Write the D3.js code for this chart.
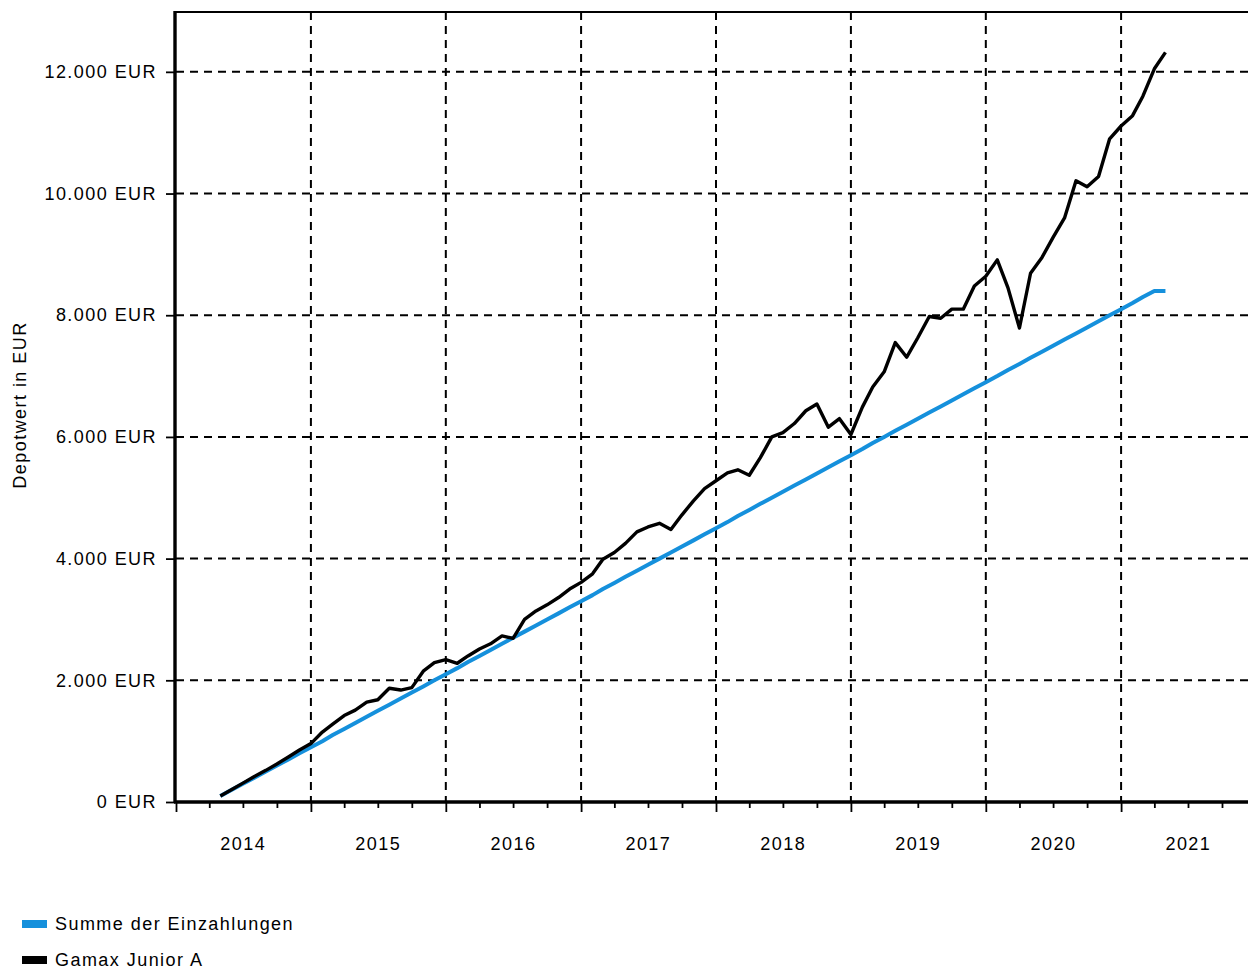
<!DOCTYPE html>
<html>
<head>
<meta charset="utf-8">
<script src="https://cdn.jsdelivr.net/npm/d3@7"></script>
<style>
  html, body { margin: 0; padding: 0; background: #fff; }
  svg { display: block; }
  text { font-family: "Liberation Sans", Arial, sans-serif; fill: #000; }
</style>
</head>
<body>
<svg id="chart" width="1248" height="969"></svg>
<script>
// ---- data ----
const months = [
  "2014-05","2014-06","2014-07","2014-08","2014-09","2014-10","2014-11","2014-12",
  "2015-01","2015-02","2015-03","2015-04","2015-05","2015-06","2015-07","2015-08","2015-09","2015-10","2015-11","2015-12",
  "2016-01","2016-02","2016-03","2016-04","2016-05","2016-06","2016-07","2016-08","2016-09","2016-10","2016-11","2016-12",
  "2017-01","2017-02","2017-03","2017-04","2017-05","2017-06","2017-07","2017-08","2017-09","2017-10","2017-11","2017-12",
  "2018-01","2018-02","2018-03","2018-04","2018-05","2018-06","2018-07","2018-08","2018-09","2018-10","2018-11","2018-12",
  "2019-01","2019-02","2019-03","2019-04","2019-05","2019-06","2019-07","2019-08","2019-09","2019-10","2019-11","2019-12",
  "2020-01","2020-02","2020-03","2020-04","2020-05","2020-06","2020-07","2020-08","2020-09","2020-10","2020-11","2020-12",
  "2021-01","2021-02","2021-03","2021-04","2021-05"
];
const einzahlungen = [
  100,200,300,400,500,600,700,800,
  900,1000,1100,1200,1300,1400,1500,1600,1700,1800,1900,2000,
  2100,2200,2300,2400,2500,2600,2700,2800,2900,3000,3100,3200,
  3300,3400,3500,3600,3700,3800,3900,4000,4100,4200,4300,4400,
  4500,4600,4700,4800,4900,5000,5100,5200,5300,5400,5500,5600,
  5700,5800,5900,6000,6100,6200,6300,6400,6500,6600,6700,6800,
  6900,7000,7100,7200,7300,7400,7500,7600,7700,7800,7900,8000,
  8100,8200,8300,8400,8400
];
const gamax = [
  100,205,310,420,520,625,740,855,
  960,1150,1280,1420,1510,1640,1680,1870,1840,1880,2150,2290,
  2340,2280,2400,2515,2600,2730,2690,3000,3140,3240,3360,3500,
  3610,3750,3990,4100,4250,4440,4520,4580,4480,4720,4950,5150,
  5280,5410,5460,5370,5660,6000,6070,6220,6430,6540,6160,6300,
  6040,6490,6820,7070,7550,7310,7630,7980,7950,8100,8100,8480,
  8640,8910,8450,7790,8690,8950,9280,9600,10210,10110,10280,10900,
  11110,11280,11600,12050,12320
];
const yTicks = [0,2000,4000,6000,8000,10000,12000];
const yearLabels = ["2014","2015","2016","2017","2018","2019","2020","2021"];
const seriesNames = ["Summe der Einzahlungen","Gamax Junior A"];
const seriesColors = ["#1590dc","#000000"];
const yAxisTitle = "Depotwert in EUR";

(function () {
// ---- layout ----
const svg = d3.select("#chart");
const W = 1248;
const pLeft = 176, pBottom = 802, pTop = 11;
const FS = 18, LS = 1.45;
const parse = d3.timeParse("%Y-%m");
const dates = months.map(parse);

const x = d3.scaleTime()
  .domain([new Date(2014,0,1), new Date(2022,0,1)])
  .range([pLeft, pLeft + 135*8]);
const y = d3.scaleLinear().domain([0,13000]).range([pBottom, pTop]);

const fmt = v => d3.format(",")(v).replace(/,/g, ".") + " EUR";

// grid
const g = svg.append("g");
g.selectAll("line.hgrid").data(yTicks.filter(v => v > 0)).join("line")
  .attr("x1", pLeft).attr("x2", W)
  .attr("y1", d => y(d)).attr("y2", d => y(d))
  .attr("stroke", "#000").attr("stroke-width", 2)
  .attr("stroke-dasharray", "8,6");
const yearDates = yearLabels.slice(1).map(s => new Date(+s,0,1));
g.selectAll("line.vgrid").data(yearDates).join("line")
  .attr("x1", d => x(d)).attr("x2", d => x(d))
  .attr("y1", pTop+1).attr("y2", pBottom)
  .attr("stroke", "#000").attr("stroke-width", 2)
  .attr("stroke-dasharray", "8,6");

// lines
const lineGen = vals => d3.line()
  .x((d,i) => x(dates[i]))
  .y(d => y(d))(vals);
svg.append("path").attr("d", lineGen(einzahlungen))
  .attr("fill","none").attr("stroke", seriesColors[0]).attr("stroke-width", 4)
  .attr("stroke-linejoin","round");
svg.append("path").attr("d", lineGen(gamax))
  .attr("fill","none").attr("stroke", seriesColors[1]).attr("stroke-width", 3.4)
  .attr("stroke-linejoin","round");

// frame line on top
svg.append("line").attr("x1", pLeft-1).attr("x2", W).attr("y1", pTop+1).attr("y2", pTop+1)
  .attr("stroke","#000").attr("stroke-width",2.2);

// y axis
const yAxis = d3.axisLeft(y).tickValues(yTicks).tickFormat(fmt).tickSize(9).tickPadding(9);
const ya = svg.append("g").attr("transform", `translate(${pLeft-1},0)`).call(yAxis);
ya.select(".domain").attr("stroke-width", 3.4).attr("d", `M0,${pTop}V${pBottom+1}`);
ya.selectAll(".tick line").attr("stroke-width", 1.8);
ya.selectAll(".tick text").attr("font-size", FS).attr("letter-spacing", LS)
  .attr("font-family", '"Liberation Sans", Arial, sans-serif');

// x axis: quarterly minor ticks
const quarters = d3.timeMonth.every(3).range(new Date(2014,0,1), new Date(2022,0,2));
const xa = svg.append("g").attr("transform", `translate(0,${pBottom})`);
xa.call(d3.axisBottom(x).tickValues(quarters).tickFormat("").tickSize(6));
xa.select(".domain").remove();
xa.selectAll(".tick line")
  .attr("stroke-width", 1.8)
  .attr("y2", d => d.getMonth() === 0 ? 10 : 6);
svg.append("line").attr("x1", pLeft-2).attr("x2", W).attr("y1", pBottom).attr("y2", pBottom)
  .attr("stroke","#000").attr("stroke-width",3.4);

// year labels centred in year
svg.append("g").selectAll("text").data(yearLabels).join("text")
  .attr("x", d => x(new Date(+d,6,2)))
  .attr("y", 850)
  .attr("text-anchor","middle")
  .attr("font-size", FS)
  .attr("letter-spacing", LS)
  .text(d => d);

// y axis title
svg.append("text")
  .attr("transform", `translate(26,405) rotate(-90)`)
  .attr("text-anchor","middle")
  .attr("font-size", FS)
  .attr("letter-spacing", LS)
  .text(yAxisTitle);

// legend
const lg = svg.append("g");
seriesNames.forEach((name, i) => {
  const yy = 920 + i*36;
  lg.append("rect").attr("x", 22).attr("y", yy).attr("width", 25).attr("height", 8)
    .attr("fill", seriesColors[i]);
  lg.append("text").attr("x", 55).attr("y", yy + 10).attr("font-size", FS)
    .attr("letter-spacing", LS).text(name);
});
})();
</script>
</body>
</html>
